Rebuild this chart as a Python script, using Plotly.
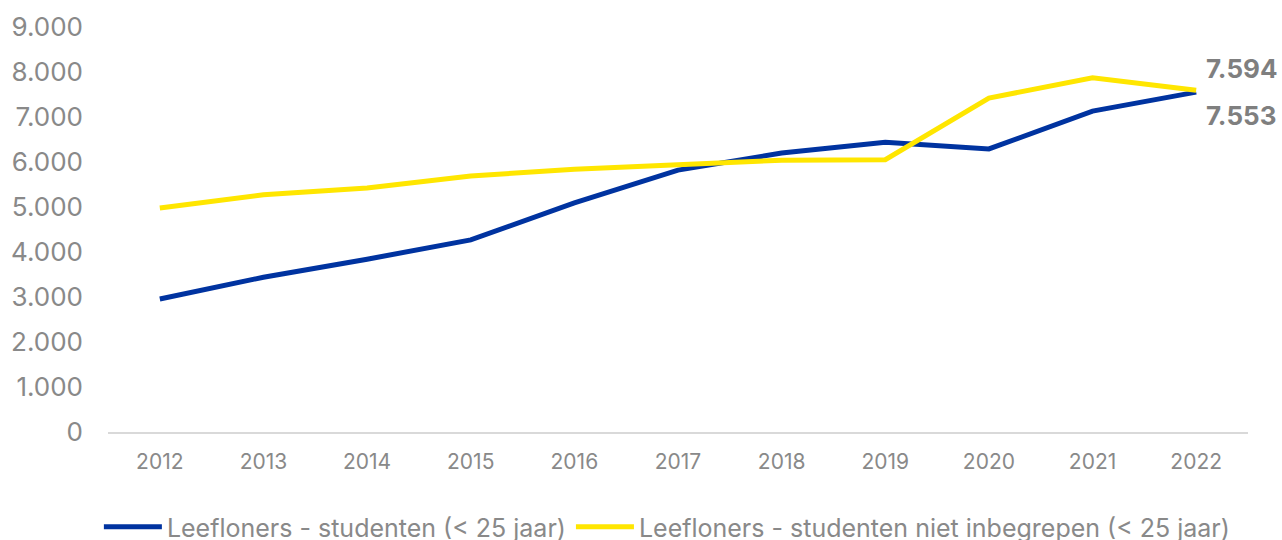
import plotly.graph_objects as go

years = ["2012", "2013", "2014", "2015", "2016", "2017", "2018", "2019", "2020", "2021", "2022"]
studenten = [2956, 3440, 3840, 4270, 5090, 5820, 6200, 6440, 6290, 7130, 7553]
zonder_studenten = [4980, 5270, 5420, 5690, 5840, 5930, 6040, 6050, 7420, 7870, 7594]
name_blue = "Leefloners - studenten (< 25 jaar)"
name_yellow = "Leefloners - studenten niet inbegrepen (< 25 jaar)"
y_ticks = list(range(0, 9001, 1000))

BLUE = "#0033a0"
YELLOW = "#ffe600"
GRAY = "#898989"
FONT = "Inter"

def nl(v):
    return f"{v:,}".replace(",", ".")

fig = go.Figure()
fig.add_trace(go.Scatter(x=years, y=studenten, mode="lines", name=name_blue,
                         line=dict(color=BLUE, width=5)))
fig.add_trace(go.Scatter(x=years, y=zonder_studenten, mode="lines", name=name_yellow,
                         line=dict(color=YELLOW, width=5)))

last = len(years) - 1
fig.add_annotation(x=last, y=zonder_studenten[-1], text="<b>" + nl(zonder_studenten[-1]) + "</b>",
                   showarrow=False, xanchor="left", yanchor="middle", xshift=8, yshift=22,
                   font=dict(family=FONT, size=26, color="#7f7f7f"))
fig.add_annotation(x=last, y=studenten[-1], text="<b>" + nl(studenten[-1]) + "</b>",
                   showarrow=False, xanchor="left", yanchor="middle", xshift=8, yshift=-23,
                   font=dict(family=FONT, size=26, color="#7f7f7f"))

fig.update_layout(
    width=1282, height=540,
    margin=dict(l=108, r=34, t=27, b=108, autoexpand=False),
    plot_bgcolor="white", paper_bgcolor="white",
    font=dict(family=FONT, color=GRAY),
    showlegend=True,
    legend=dict(orientation="h", x=-0.008, xanchor="left", y=-0.2346, yanchor="middle",
                font=dict(family=FONT, size=25, color=GRAY), itemwidth=58,
                bgcolor="rgba(0,0,0,0)"),
    xaxis=dict(type="category", range=[-0.5, len(years) - 0.5], showgrid=False,
               showline=True, linecolor="#d9d9d9", linewidth=1.5,
               ticks="outside", ticklen=10, tickcolor="rgba(0,0,0,0)",
               tickfont=dict(family=FONT, size=21, color=GRAY), zeroline=False),
    yaxis=dict(range=[0, 9000], tickvals=y_ticks, ticktext=[nl(v) for v in y_ticks],
               showgrid=False, zeroline=False, showline=False,
               ticklabelstandoff=24,
               tickfont=dict(family=FONT, size=26, color=GRAY)),
)

fig.write_html("out.html", config={"displayModeBar": False},
               post_script="document.body.style.margin='0';")
